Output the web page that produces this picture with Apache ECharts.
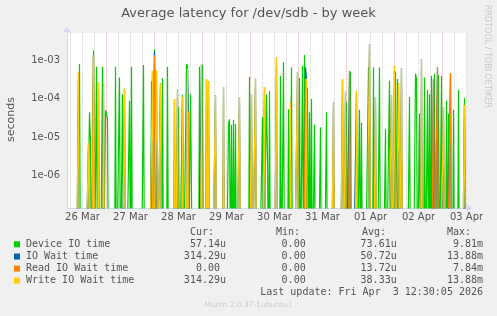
<!DOCTYPE html>
<html><head><meta charset="utf-8">
<script src="https://cdn.jsdelivr.net/npm/echarts@6/dist/echarts.min.js"></script>
<style>html,body{margin:0;padding:0;background:#f0f0f0;}#c{width:497px;height:316px;}</style>
</head><body><div id="c"></div>
<script>
// ---------- texts ----------
const chartTitle = 'Average latency for /dev/sdb - by week';
const yAxisName = 'seconds';
const sideNote = 'RRDTOOL / TOBI OETIKER';
const lastUpdate = 'Last update: Fri Apr  3 12:30:05 2026';
const footer = 'Munin 2.0.37-1ubuntu1';

// x axis: hours counted from 25 Mar 12:00, one data slot every 30 minutes
const xLabels = ['26 Mar', '27 Mar', '28 Mar', '29 Mar', '30 Mar', '31 Mar', '01 Apr', '02 Apr', '03 Apr'];
const xLabelHours = [24, 48, 72, 96, 120, 144, 168, 192, 216];
const slotStart = 16.5, slotStep = 0.5, slotCount = 401;

// y axis (log)
const yMin = 1.455e-7, yMax = 5.0e-3;
const yMajorGrid = [1e-6, 1e-5, 1e-4, 1e-3];
const yMinorMultipliers = [2, 3, 4, 5, 6, 7, 8, 9];
const yDecades = [1e-7, 1e-6, 1e-5, 1e-4, 1e-3];
const zeroFloor = 1e-9; // log axis cannot show 0: zero slots are drawn below the plot

// ---------- series (hour, seconds); all other slots are 0 ----------
const seriesNames = ['Device IO time', 'IO Wait time', 'Read IO Wait time', 'Write IO Wait time'];
const seriesColors = ['#00cc00', '#0066b3', '#ff8000', '#ffcc00'];

const deviceIO = [
  [22.5, 7.9e-4], [27.5, 4.4e-5], [28, 8e-6], [29.5, 1.75e-3], [31, 6.7e-4], [34, 6.7e-4],
  [35.5, 4.9e-5], [36, 4e-5], [36.5, 3e-5], [40.5, 6.7e-4], [42.5, 3.5e-4], [44, 1.3e-4],
  [47.5, 8.7e-5], [48.5, 6.7e-4], [54.5, 7.4e-4], [58.5, 2.8e-4], [60, 1.9e-3], [64, 3.4e-4],
  [66.5, 6.6e-4], [72, 6e-5], [74, 1.25e-4], [76, 7.9e-4], [76.5, 7e-4], [78, 1.3e-4],
  [78.5, 1.2e-4], [82.5, 6.7e-4], [84, 7.4e-4], [86.5, 6e-6], [97, 2.2e-5], [97.5, 2.9e-5],
  [98.5, 2.1e-5], [99.5, 2.8e-5], [100.5, 2.2e-5], [107.5, 3.6e-4], [114, 3.3e-5], [116, 1.3e-4],
  [116.5, 2.2e-6], [117.5, 1.6e-4], [123, 3.9e-4], [124.5, 8.7e-4], [127, 5.3e-5], [128.5, 6.5e-4],
  [132.5, 3.4e-4], [134, 7.1e-4], [135, 1.35e-3], [136.5, 1.9e-4], [137.5, 4.4e-5], [138.5, 9.8e-5],
  [140, 2.1e-5], [143, 1.8e-5], [146, 4.4e-5], [156, 8e-5], [158, 5e-4], [162.5, 5.1e-5],
  [163.5, 2.4e-5], [167, 6.5e-4], [169.5, 6.5e-4], [172.5, 6.5e-4], [175.5, 1.6e-5], [177.5, 2.9e-4],
  [180.5, 5e-4], [181.5, 3.2e-4], [187.5, 1.1e-4], [190.5, 4.4e-4], [191, 3.2e-4], [192.5, 4.1e-5],
  [195, 3.5e-4], [196.5, 1.7e-4], [197.5, 1.3e-4], [198.5, 3.9e-4], [200, 4.4e-4], [202, 4e-4],
  [203.5, 3.9e-4], [206, 8.8e-5], [207, 4.1e-5], [209.5, 5.1e-5], [212, 1.7e-4], [215, 1.03e-4]
];
const ioWait = [
  [22, 4.8e-4], [27, 7e-6], [29.5, 1.3e-3], [32, 2.6e-4], [34.5, 2.3e-4], [45, 1.8e-4],
  [59, 5.2e-4], [60, 1.65e-3], [61, 5.5e-4], [63, 2.5e-4], [70, 9.7e-5], [71.5, 1.7e-4],
  [74, 1.1e-4], [76.5, 6e-4], [77, 4.6e-5], [83.5, 7.9e-4], [86, 3.2e-4], [87, 2.8e-4],
  [90.5, 1.2e-4], [94.5, 2e-4], [102.5, 1.1e-4], [108.5, 1.25e-4], [110.5, 3.4e-4], [115, 2e-4],
  [121, 1.17e-3], [128, 8.4e-5], [131.5, 4.8e-4], [135.5, 6.5e-4], [136, 3.3e-4], [149.5, 7.9e-5],
  [154, 3.2e-4], [155.5, 1.5e-4], [157.5, 5.1e-4], [161, 1.6e-4], [167.5, 2.5e-3], [170.5, 1.1e-4],
  [178.5, 1.2e-4], [180, 7e-4], [182, 2.5e-4], [183.5, 6.1e-4], [193.5, 1.04e-3], [199.5, 3.2e-4],
  [201.5, 6.5e-4], [204.5, 6e-5], [208, 4.6e-4], [215, 6.8e-5]
];
const readWait = [
  [29.5, 1.35e-3], [60, 1.3e-3], [77, 4.6e-5], [135.5, 3.3e-4], [157.5, 5.1e-4],
  [199.5, 3.2e-4], [201.5, 6.5e-4], [208, 4.6e-4]
];
const writeWait = [
  [22, 4.8e-4], [27, 7e-6], [29.5, 1.2e-3], [32, 2.6e-4], [34.5, 2.3e-4], [45, 1.8e-4],
  [59, 5.2e-4], [61, 5.5e-4], [63, 2.5e-4], [70, 9.7e-5], [71.5, 1.7e-4], [74, 1.1e-4],
  [76.5, 6e-4], [83.5, 7.9e-4], [86, 3.2e-4], [87, 2.8e-4], [90.5, 1.2e-4], [94.5, 2e-4],
  [102.5, 1.1e-4], [108.5, 1.25e-4], [110.5, 3.4e-4], [115, 2e-4], [121, 1.17e-3], [128, 8.4e-5],
  [131.5, 4.8e-4], [136, 3.3e-4], [149.5, 7.9e-5], [154, 3.2e-4], [155.5, 1.5e-4], [161, 1.6e-4],
  [167.5, 2.5e-3], [170.5, 1.1e-4], [178.5, 1.2e-4], [180, 7e-4], [182, 2.5e-4], [183.5, 6.1e-4],
  [193.5, 1.04e-3], [204.5, 6e-5], [215, 6.8e-5]
];

// legend statistics
const statHeaders = ['Cur:', 'Min:', 'Avg:', 'Max:'];
const curValues = ['57.14u', '314.29u', '0.00 ', '314.29u'];
const minValues = ['0.00 ', '0.00 ', '0.00 ', '0.00 '];
const avgValues = ['73.61u', '50.72u', '13.72u', '38.33u'];
const maxValues = ['9.81m', '13.88m', '7.84m', '13.88m'];

// ---------- build ----------
function buildSeries(spikes) {
  const m = new Map(spikes.map(p => [p[0], p[1]]));
  const out = [];
  for (let k = 0; k < slotCount; k++) {
    const h = slotStart + k * slotStep;
    const v = m.has(h) ? m.get(h) : 0;
    out.push([h, v > 0 ? v : zeroFloor]);
  }
  return out;
}
const allSeries = [deviceIO, ioWait, readWait, writeWait];

const gridMarks = [];
const redGrid = {color: '#eeaaaa', width: 1, type: [1, 1]};
const greyGrid = {color: '#cfcfcf', width: 1, type: [1, 1]};
for (let h = 18; h <= 216; h += 6) {
  const isMidnight = ((h - 12) % 24) === 0;
  gridMarks.push({xAxis: h, lineStyle: isMidnight ? redGrid : greyGrid});
}
yDecades.forEach(d => yMinorMultipliers.forEach(mu => {
  const v = d * mu;
  if (v > yMin && v <= yMax * 1.001) gridMarks.push({yAxis: v, lineStyle: greyGrid});
}));
yMajorGrid.forEach(v => gridMarks.push({yAxis: v, lineStyle: redGrid}));

const series = [{
  type: 'line', data: [], silent: true, z: 1,
  markLine: {silent: true, symbol: ['none', 'none'], label: {show: false}, animation: false, z: 1, data: gridMarks}
}];
allSeries.forEach((s, i) => series.push({
  name: seriesNames[i], type: 'line', data: buildSeries(s), showSymbol: false, symbol: 'none',
  silent: true, z: 10, clip: true, animation: false,
  lineStyle: {color: seriesColors[i], width: 1.2, join: 'bevel'},
  emphasis: {disabled: true}
}));
// floor line along the bottom of the plot (zero values, drawn by the last series in rrdtool)
series.push({
  type: 'line', data: [], silent: true, z: 11,
  markLine: {silent: true, symbol: ['none', 'none'], label: {show: false}, animation: false, z: 11,
    data: [{yAxis: yMin, lineStyle: {color: '#f2d98a', width: 1.5, type: 'solid'}}]}
});

const FONT = 'DejaVu Sans';
const MONO = 'DejaVu Sans Mono';
const graphics = [];
function txt(x, y, text, font, fill, align, rot) {
  graphics.push({type: 'text', x: x, y: y, rotation: rot || 0, silent: true,
    style: {text: text, font: font, fill: fill, align: align || 'left', textAlign: align || 'left',
            verticalAlign: 'middle', textVerticalAlign: 'middle'}});
}
txt(248.5, 13.5, chartTitle, '13px ' + FONT, '#555555', 'center');
txt(11, 119.5, yAxisName, '11px ' + FONT, '#555555', 'center', Math.PI / 2);
txt(487.5, 5, sideNote, '8px ' + FONT, '#c8c8c8', 'left', -Math.PI / 2);

const headerX = [190, 276, 362, 447];
statHeaders.forEach((t, i) => txt(headerX[i], 232.3, t, '10px ' + MONO, '#555555', 'left'));
const rowY = [244.3, 256.5, 268.6, 280.6];
const colEnd = [226, 311.7, 396.7, 483];
seriesNames.forEach((n, i) => {
  graphics.push({type: 'rect', silent: true, shape: {x: 14, y: rowY[i] - 3, width: 6, height: 6},
    style: {fill: seriesColors[i]}});
  txt(26, rowY[i], n, '10px ' + MONO, '#555555', 'left');
  txt(colEnd[0], rowY[i], curValues[i], '10px ' + MONO, '#555555', 'right');
  txt(colEnd[1], rowY[i], minValues[i], '10px ' + MONO, '#555555', 'right');
  txt(colEnd[2], rowY[i], avgValues[i], '10px ' + MONO, '#555555', 'right');
  txt(colEnd[3], rowY[i], maxValues[i], '10px ' + MONO, '#555555', 'right');
});
txt(483, 292.3, lastUpdate, '10px ' + MONO, '#555555', 'right');
txt(248.5, 305.5, footer, '7.5px ' + FONT, '#cccccc', 'center');

const chart = echarts.init(document.getElementById('c'), null, {renderer: 'canvas'});
chart.setOption({
  animation: false,
  backgroundColor: '#f0f0f0',
  grid: {left: 67, top: 33, width: 400, height: 175, show: true, backgroundColor: '#ffffff', borderWidth: 0, containLabel: false},
  xAxis: {
    type: 'value', min: slotStart - 0.25, max: slotStart - 0.25 + 200,
    splitLine: {show: false}, axisTick: {show: false},
    axisLine: {show: true, lineStyle: {color: '#cfd6f8', width: 1}, symbol: ['none', 'arrow'], symbolSize: [7, 6], symbolOffset: [0, 5]},
    axisLabel: {customValues: xLabelHours, margin: 4, color: '#555555', fontFamily: FONT, fontSize: 10,
      formatter: v => { const i = xLabelHours.indexOf(Math.round(v)); return i >= 0 ? xLabels[i] : ''; }}
  },
  yAxis: {
    type: 'log', logBase: 10, min: yMin, max: yMax,
    splitLine: {show: false}, axisTick: {show: false}, minorTick: {show: false},
    axisLine: {show: true, lineStyle: {color: '#cfd6f8', width: 1}, symbol: ['none', 'arrow'], symbolSize: [7, 6], symbolOffset: [0, 6]},
    axisLabel: {margin: 7, color: '#555555', fontFamily: FONT, fontSize: 10,
      formatter: v => { const l = Math.log10(v); const e = Math.round(l);
        if (Math.abs(l - e) > 1e-6 || v < 5e-7 || v > 4e-3) return '';
        return '1e' + (e < 0 ? '-' : '+') + String(Math.abs(e)).padStart(2, '0'); }}
  },
  graphic: {elements: graphics},
  series: series
});
</script></body></html>
